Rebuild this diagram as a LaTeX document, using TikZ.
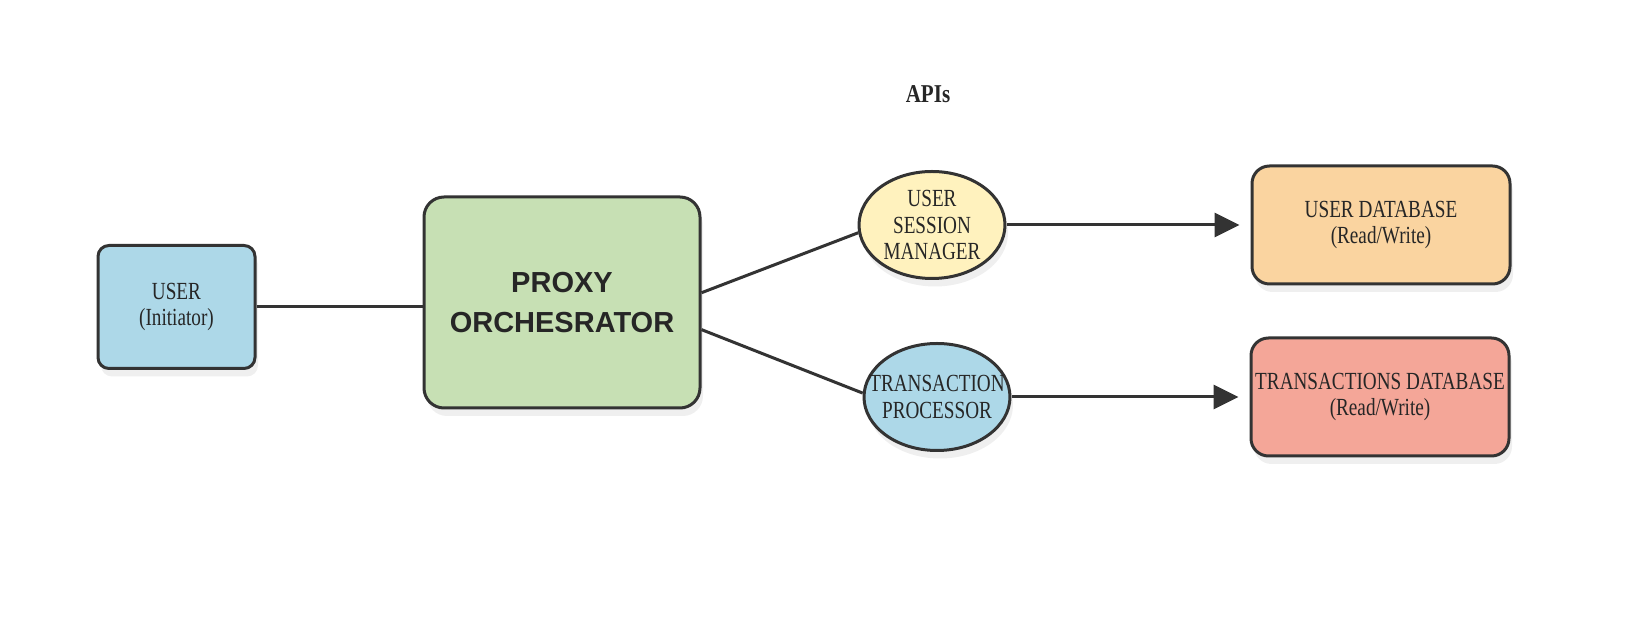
\documentclass[tikz,border=0pt]{standalone}
\usepackage{fontspec}
\usepackage{tikz}
\usetikzlibrary{arrows.meta,positioning,shapes.geometric,shadows}
\newfontfamily\boxfont{Liberation Serif}[FakeStretch=0.78]
\newfontfamily\titlefont{Liberation Serif}[FakeStretch=0.82]
\newfontfamily\proxyfont{Liberation Sans}
\definecolor{softblue}{RGB}{173,216,232}
\definecolor{softgreen}{RGB}{199,224,180}
\definecolor{softyellow}{RGB}{255,242,190}
\definecolor{softorange}{RGB}{250,212,160}
\definecolor{softred}{RGB}{244,166,152}
\definecolor{edgegray}{RGB}{51,51,51}

\begin{document}
\begin{tikzpicture}[node distance=8mm, every node/.style={font=\boxfont\fontsize{14}{15.3}\selectfont,align=center,text=black!85},
  card/.style={draw=edgegray,line width=0.06cm,rounded corners=0.35cm,inner xsep=2pt,drop shadow={opacity=0.12,shadow xshift=0.06cm,shadow yshift=-0.16cm}},
  bubble/.style={ellipse,draw=edgegray,line width=0.06cm,minimum width=2.92cm,minimum height=2.14cm,inner xsep=-0.35cm,inner ysep=0pt,drop shadow={opacity=0.12,shadow xshift=0.06cm,shadow yshift=-0.16cm}},
  link/.style={draw=edgegray,line width=0.06cm}]
\useasboundingbox[fill=white] (0,0) rectangle (32.64,-12.8);
\node[font=\titlefont\bfseries\fontsize{14.6}{17}\selectfont] (apis) at (18.56,-1.89) {APIs};
\node[card,fill=softgreen,minimum width=5.52cm,minimum height=4.22cm,rounded corners=0.4cm,font=\proxyfont\bfseries\fontsize{16.5}{23.3}\selectfont] (proxy) at (11.24,-6.05) {PROXY\\ORCHESRATOR};
\node[card,fill=softblue,minimum width=3.14cm,minimum height=2.46cm,rounded corners=0.22cm,left=3.32cm of proxy,yshift=-0.09cm] (user) {USER\\(Initiator)};
\node[bubble,fill=softyellow] (session) at (18.64,-4.5) {USER\\SESSION\\MANAGER};
\node[bubble,fill=softblue] (txproc) at (18.74,-7.94) {TRANSACTION\\PROCESSOR};
\node[card,fill=softorange,minimum width=5.16cm,minimum height=2.36cm,right=4.88cm of session] (userdb) {USER DATABASE\\(Read/Write)};
\node[card,fill=softred,minimum width=5.16cm,minimum height=2.36cm,right=4.76cm of txproc] (txdb) {TRANSACTIONS DATABASE\\(Read/Write)};
\draw[link] (user)--(user -| proxy.west); \draw[link] (proxy.4)--(session.186); \draw[link] (proxy.-11)--(txproc.177);
\draw[link,-{Triangle[length=0.5cm,width=0.48cm]},shorten >=0.22cm] (session.east)--(session.east -| userdb.west);
\draw[link,-{Triangle[length=0.5cm,width=0.48cm]},shorten >=0.22cm] (txproc.east)--(txproc.east -| txdb.west);
\end{tikzpicture}
\end{document}
